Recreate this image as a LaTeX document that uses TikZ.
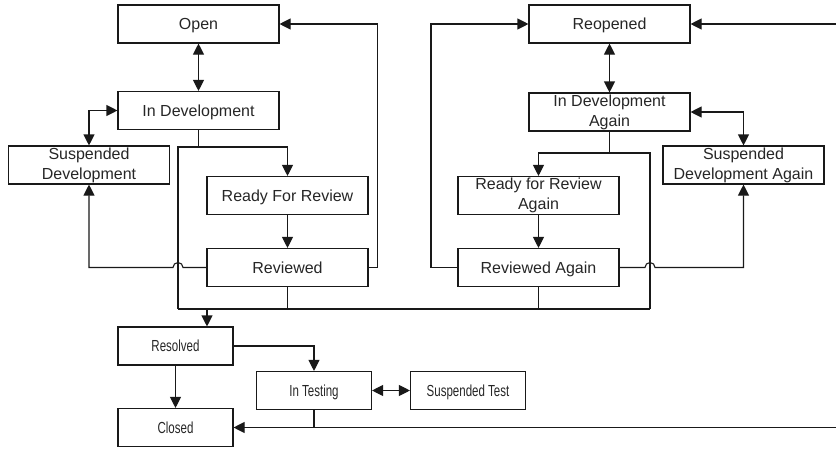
\documentclass[tikz,border=0pt]{standalone}
\usepackage{fontspec}
\setmainfont{Liberation Sans}
\newfontfamily\narrowsans[FakeStretch=0.72]{Liberation Sans}
\usetikzlibrary{arrows.meta}

\begin{document}
\begin{tikzpicture}[x=1pt,y=-1pt,
  state/.style={draw=black!90, line width=1.1pt, minimum height=38pt, minimum width=161pt,
    inner sep=0pt, align=center, text=black!85, font=\fontsize{16}{20}\selectfont},
  capline/.style={text height=11.6pt, text depth=0pt},
  smallstate/.style={state, capline, minimum width=115pt, font=\narrowsans\fontsize{16}{20}\selectfont},
  wire/.style={draw=black!90, line width=1.1pt},
  link/.style={wire, -{Triangle[length=11pt,width=11pt]}},
  biline/.style={wire, {Triangle[length=11pt,width=11pt]}-{Triangle[length=11pt,width=11pt]}},
]
\useasboundingbox (0,0) rectangle (836,450);

% first development cycle
\node[state,capline] (open)    at (198.5,24)    {Open};
\node[state,capline] (indev)   at (198.5,110.5) {In Development};
\node[state]         (suspdev) at (89,165)      {Suspended\\Development};
\node[state,capline] (rfr)     at (287.5,195.5) {Ready For Review};
\node[state,capline] (rev)     at (287.5,267.5) {Reviewed};

% second development cycle
\node[state,capline] (reopen)   at (609.5,24)    {Reopened};
\node[state]         (indeva)   at (609.5,112)   {In Development\\Again};
\node[state]         (suspdeva) at (743.5,165)   {Suspended\\Development Again};
\node[state]         (rfra)     at (538.5,195.5) {Ready for Review\\Again};
\node[state,capline] (reva)     at (538.5,267.5) {Reviewed Again};

% resolution and testing
\node[smallstate] (resolved) at (175.5,346)   {Resolved};
\node[smallstate] (closed)   at (175.5,427.5) {Closed};
\node[smallstate] (testing)  at (314,390.5)   {In Testing};
\node[smallstate] (susptest) at (468,390.5)   {Suspended Test};

% bend and junction points
\coordinate (j1)        at (198.5,147);
\coordinate (j2)        at (609.5,153);
\coordinate (busL)      at (178,309);
\coordinate (busR)      at (650,309);
\coordinate (drop)      at (207,309);
\coordinate (openback)  at (377.5,267.5);
\coordinate (hopL)      at (183,267.5);
\coordinate (suspback)  at (89,267.5);
\coordinate (reback)    at (431,267.5);
\coordinate (hopR)      at (645,267.5);
\coordinate (suspaback) at (743.5,267.5);
\coordinate (edgeTop)   at (836,24);
\coordinate (edgeBot)   at (836,427.5);

% first cycle connectors
\draw[biline] (open) -- (indev);
\draw[biline] (suspdev.north) |- (indev.west);
\draw[wire] (indev.south) -- (j1) -| (busL);
\draw[link] (j1) -| (rfr.north);
\draw[link] (rfr) -- (rev);
\draw[link] (rev.east) -- (openback) |- (open.east);
\draw[link] (rev.west) -- (hopL) arc[start angle=0,end angle=180,radius=5pt] -- (suspback) -- (suspdev.south);
\draw[wire] (rev.south) -- (rev.south |- busL);

% common bus towards Resolved
\draw[wire] (busL) -- (busR);
\draw[link] (drop) -- (drop |- resolved.north);

% second cycle connectors
\draw[biline] (reopen) -- (indeva);
\draw[biline] (indeva.east) -| (suspdeva.north);
\draw[wire] (indeva.south) -- (j2) -| (busR);
\draw[link] (j2) -| (rfra.north);
\draw[link] (rfra) -- (reva);
\draw[link] (reva.west) -- (reback) |- (reopen.west);
\draw[link] (reva.east) -- (hopR) arc[start angle=180,end angle=0,radius=5pt] -- (suspaback) -- (suspdeva.south);
\draw[wire] (reva.south) -- (reva.south |- busR);
\draw[link] (edgeTop) -- (reopen.east);

% testing connectors
\draw[link] (resolved.east) -| (testing.north);
\draw[link] (resolved) -- (closed);
\draw[biline] (testing) -- (susptest);
\draw[link] (edgeBot) -- (closed.east);
\draw[wire] (testing.south) -- (testing.south |- edgeBot);
\end{tikzpicture}
\end{document}
